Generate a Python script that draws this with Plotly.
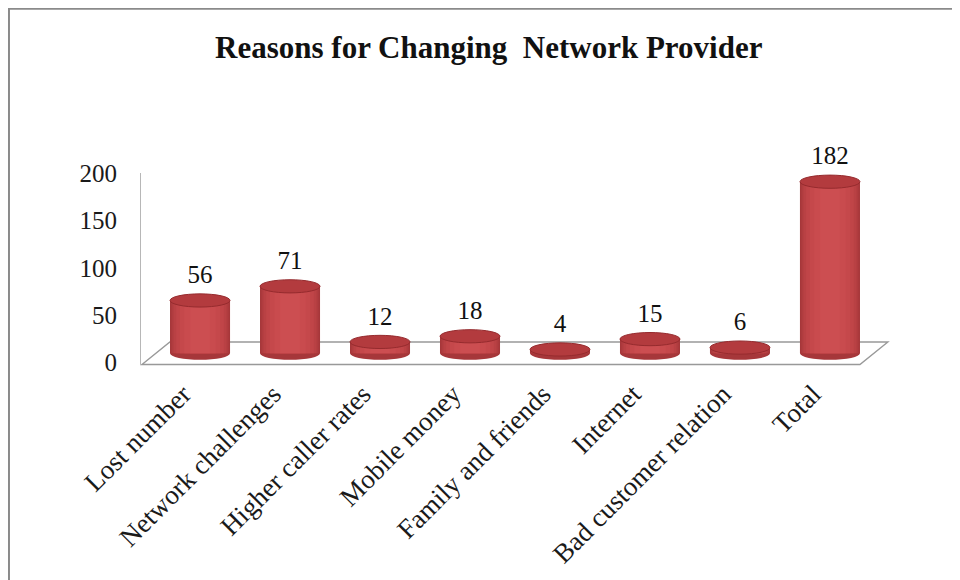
import plotly.graph_objects as go

# ---- data ----
categories = ["Lost number", "Network challenges", "Higher caller rates", "Mobile money",
              "Family and friends", "Internet", "Bad customer relation", "Total"]
values = [56, 71, 12, 18, 4, 15, 6, 182]
y_ticks = [0, 50, 100, 150, 200]
title_text = "Reasons for Changing  Network Provider"

# ---- styling constants ----
FONT = "Liberation Serif, Times New Roman, serif"
n = len(categories)
xs = list(range(n))
base = 9.3          # bars sit in the middle of the 3D floor
cap = 7.0           # half-height of elliptical caps (data units)
half_w = 0.333      # half width of cylinders (category units)
label_gap = 25

fig = go.Figure()

# cylinder body built from overlaid bars for shading
layers = [(0.667, "#A6373A"), (0.635, "#B03C3F"), (0.59, "#B94144"), (0.53, "#C04548"),
          (0.45, "#C5484B"), (0.35, "#C94B4E"), (0.22, "#CC4E51")]
for w, c in layers:
    fig.add_trace(go.Bar(x=xs, y=values, base=[base] * n, width=w,
                         marker=dict(color=c, line=dict(width=0)),
                         hoverinfo="skip", showlegend=False))

# value labels
fig.add_trace(go.Scatter(x=xs, y=[base + v + label_gap for v in values],
                         text=[str(v) for v in values], mode="text", cliponaxis=False,
                         textfont=dict(family=FONT, size=25, color="#111111"),
                         hoverinfo="skip", showlegend=False))

shapes = []
# floor (3D base plane)
fx0, fx1 = -0.645, n - 1 + 0.333
dx = 0.31
fy0, fy1 = -2.7, 21.2
shapes.append(dict(type="path", xref="x", yref="y", layer="below",
                   path=f"M {fx0},{fy0} L {fx1},{fy0} L {fx1+dx},{fy1} L {fx0+dx},{fy1} Z",
                   fillcolor="rgba(255,255,255,0)", line=dict(color="#999999", width=1.4)))
# vertical axis line
shapes.append(dict(type="line", xref="x", yref="y", layer="below",
                   x0=-0.667, x1=-0.667, y0=fy0 - 0.3, y1=200.5,
                   line=dict(color="#999999", width=1.4)))
# bottom caps (rounded bases)
for x in xs:
    shapes.append(dict(type="circle", xref="x", yref="y", layer="below",
                       x0=x - half_w, x1=x + half_w, y0=base - cap, y1=base + cap,
                       fillcolor="#A6373A", line=dict(width=0)))
# top caps
for x, v in zip(xs, values):
    shapes.append(dict(type="circle", xref="x", yref="y", layer="above",
                       x0=x - half_w, x1=x + half_w, y0=base + v - cap, y1=base + v + cap,
                       fillcolor="#B33B3E", line=dict(color="#962B2E", width=1)))
# outer frame lines (top and left border)
shapes.append(dict(type="line", xref="paper", yref="paper", x0=-0.176, x1=1.2, y0=1.636, y1=1.636,
                   line=dict(color="#8A8A8A", width=2)))
shapes.append(dict(type="line", xref="paper", yref="paper", x0=-0.1747, x1=-0.1747, y0=1.64, y1=-1.0,
                   line=dict(color="#8A8A8A", width=2)))

fig.update_layout(
    width=960, height=580,
    margin=dict(l=132, r=78, t=142, b=216),
    paper_bgcolor="white", plot_bgcolor="white",
    barmode="overlay",
    showlegend=False,
    title=dict(text=f"<b>{title_text}</b>", x=0.465, xref="paper", xanchor="center",
               y=1 - 39 / 580, yref="container", yanchor="middle",
               font=dict(family=FONT, size=31, color="#111111")),
    shapes=shapes,
    xaxis=dict(range=[-0.667, n - 1 + 0.667], tickmode="array", tickvals=xs, ticktext=categories,
               tickangle=-45, tickfont=dict(family=FONT, size=27, color="#1a1a1a"),
               showgrid=False, zeroline=False, showline=False, ticks="",
               ticklabelstandoff=0, ticklabelshift=-17),
    yaxis=dict(range=[(362 - 372) / 0.9425, (362 - 150) / 0.9425], tickmode="array", tickvals=y_ticks,
               tickfont=dict(family=FONT, size=25, color="#1a1a1a"),
               showgrid=False, zeroline=False, showline=False, ticks="", ticklabelstandoff=22),
)

fig.write_html("out.html")
